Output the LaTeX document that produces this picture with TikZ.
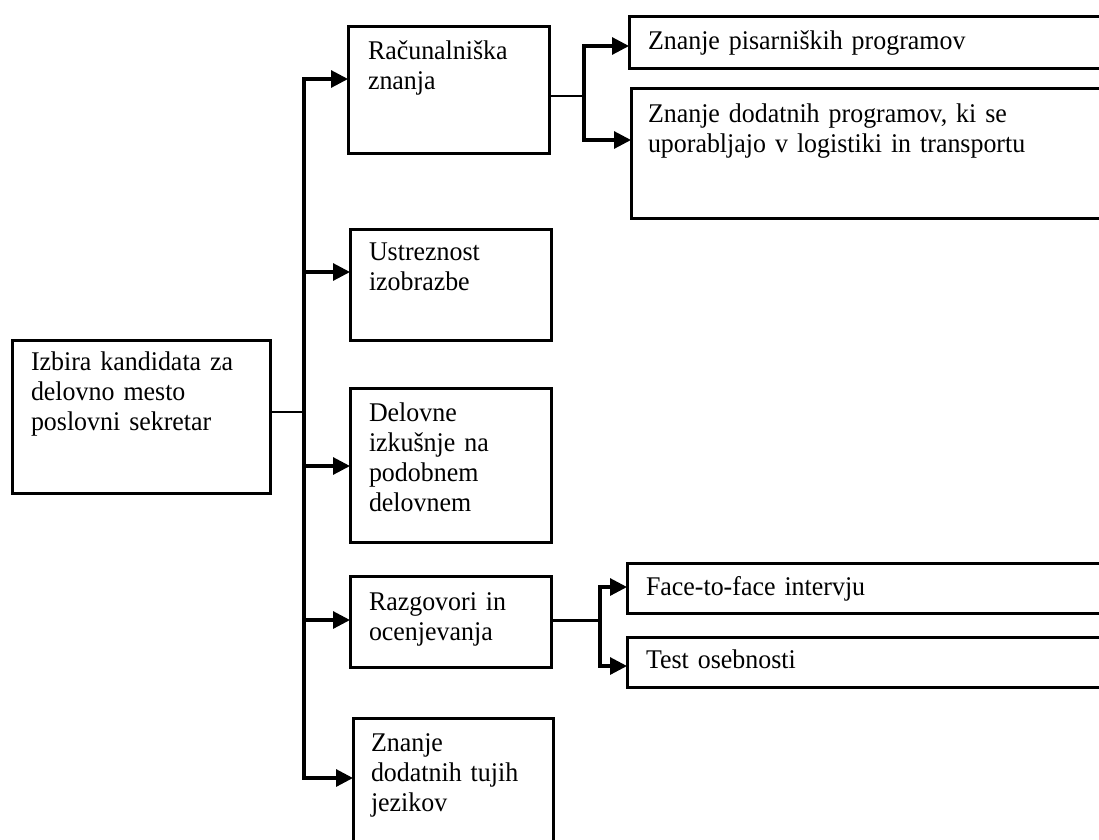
\documentclass[tikz,border=0pt]{standalone}
\usepackage{fontspec}
\setmainfont{Liberation Serif}[FakeStretch=0.96]
\usetikzlibrary{arrows.meta,calc}
\begin{document}
\begin{tikzpicture}[x=1pt,y=-1pt,
  box/.style={draw,line width=3pt,inner sep=0pt,outer sep=0pt,anchor=north west},
  lbl/.style={anchor=base west,inner sep=0pt,outer sep=0pt,align=left,text width=#1,font=\fontsize{27}{30}\selectfont},
  tip/.tip={Triangle[length=17pt,width=17pt]},
  arr/.style={line width=3.1pt,-tip},
  twoarr/.style={line width=3.1pt,tip-tip},
  thinline/.style={line width=2.6pt},
  midline/.style={line width=3pt}]
\useasboundingbox (0,0) rectangle (1099,839);
\fill[white] (0,0) rectangle (1099,839);

% boxes
\node[box,minimum width=258pt,minimum height=153pt] (root) at (12,340) {};
\node[box,minimum width=201pt,minimum height=127pt] (rac) at (348,26) {};
\node[box,minimum width=201pt,minimum height=111pt] (ust) at (350,229) {};
\node[box,minimum width=201pt,minimum height=154pt] (del) at (350,388) {};
\node[box,minimum width=201pt,minimum height=91pt] (raz) at (350,576) {};
\node[box,minimum width=200pt,minimum height=160pt] (zt) at (353,718) {};
\node[box,minimum width=490pt,minimum height=52pt] (pis) at (629,16) {};
\node[box,minimum width=490pt,minimum height=130pt] (dod) at (631,88) {};
\node[box,minimum width=490pt,minimum height=50pt] (face) at (627,563) {};
\node[box,minimum width=490pt,minimum height=50pt] (test) at (627,637) {};

% texts
\node[lbl=235pt] (rootT) at ($(root.north west)+(19,30)$) {Izbira kandidata za\\delovno mesto\\poslovni sekretar};
\node[lbl=180pt] (racT) at ($(rac.north west)+(20,33)$) {Računalniška\\znanja};
\node[lbl=180pt] (ustT) at ($(ust.north west)+(19,31)$) {Ustreznost\\izobrazbe};
\node[lbl=180pt] (delT) at ($(del.north west)+(19,33.5)$) {Delovne\\izkušnje na\\podobnem\\delovnem};
\node[lbl=180pt] (razT) at ($(raz.north west)+(19,34)$) {Razgovori in\\ocenjevanja};
\node[lbl=180pt] (ztT) at ($(zt.north west)+(18,33)$) {Znanje\\dodatnih tujih\\jezikov};
\node[lbl=440pt] (pisT) at ($(pis.north west)+(19,33)$) {Znanje pisarniških programov};
\node[lbl=440pt] (dodT) at ($(dod.north west)+(17,34)$) {Znanje dodatnih programov, ki se\\uporabljajo v logistiki in transportu};
\node[lbl=440pt] (faceT) at ($(face.north west)+(19,32)$) {Face-to-face intervju};
\node[lbl=440pt] (testT) at ($(test.north west)+(19,31)$) {Test osebnosti};

% trunk
\coordinate (tTop) at (304,79);
\coordinate (tBot) at (304,778);
\draw[twoarr] ([yshift=10.5pt]rac.west) -- (tTop) -- (tBot) -- ([yshift=20pt]zt.west);
\draw[arr] ([yshift=12.5pt]ust.west -| tTop) -- ([yshift=12.5pt]ust.west);
\draw[arr] ([yshift=-1pt]del.west -| tTop) -- ([yshift=-1pt]del.west);
\draw[arr] ([yshift=1.5pt]raz.west -| tTop) -- ([yshift=1.5pt]raz.west);
\draw[thinline] ([yshift=4.5pt]root.east) -- ([yshift=4.5pt]root.east -| tTop);

% split 1
\coordinate (s1) at (584,96);
\draw[thinline] ([yshift=-6.5pt]rac.east) -- (s1);
\draw[twoarr] ([yshift=-4pt]pis.west) -| (s1) |- ([yshift=13pt]dod.west);

% split 2
\coordinate (s2) at (600,620);
\draw[midline] ([yshift=1.5pt]raz.east) -- (s2);
\draw[twoarr] ([yshift=1pt]face.west) -| (s2) |- ([yshift=-4pt]test.west);
\end{tikzpicture}
\end{document}
